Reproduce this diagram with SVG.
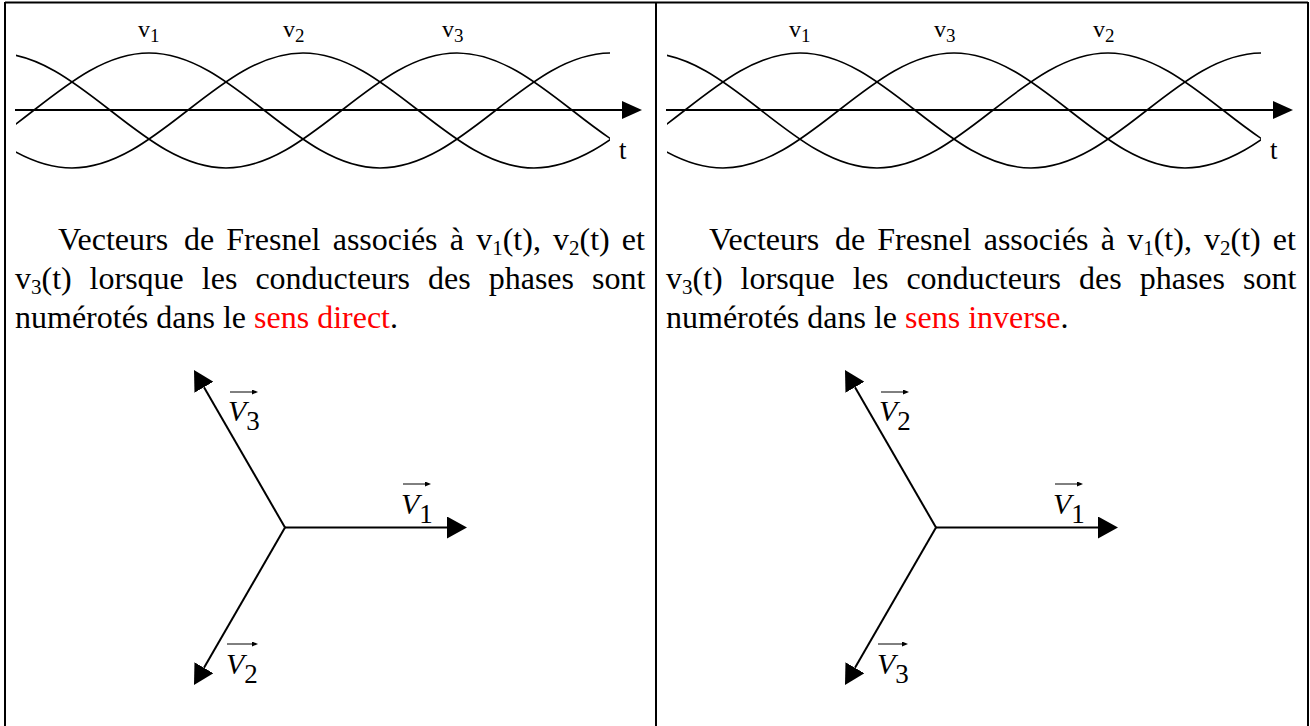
<svg xmlns="http://www.w3.org/2000/svg" width="1310" height="726" viewBox="0 0 1310 726">
<style>
.frame{stroke:#000;stroke-width:2;fill:none}
.wave{stroke:#000;stroke-width:1.6;fill:none}
.axis{stroke:#000;stroke-width:2;fill:none}
.vec{stroke:#000;stroke-width:2;fill:none}
.lbl{font-family:"Liberation Serif","Times New Roman",serif;fill:#000}
.para{font-family:"Liberation Serif","Times New Roman",serif;font-size:32px;fill:#000}
.red{fill:#ff0000}
.vname{font-family:"Liberation Serif","Times New Roman",serif;font-size:30px;font-style:italic;fill:#000}
.vsub{font-style:normal;font-size:27px}
.tarr{stroke:#000;stroke-width:1;fill:none}
</style>
<defs>
<marker id="mAxis" markerUnits="userSpaceOnUse" markerWidth="20" markerHeight="18" viewBox="0 0 20 18" refX="0" refY="9" orient="auto"><path d="M0,0 L20,9 L0,18 z" fill="#000"/></marker>
<marker id="mVec" markerUnits="userSpaceOnUse" markerWidth="20" markerHeight="22" viewBox="0 0 20 22" refX="0" refY="11" orient="auto"><path d="M0,0 L20,11 L0,22 z" fill="#000"/></marker>
<marker id="mTiny" markerUnits="userSpaceOnUse" markerWidth="6" markerHeight="5" viewBox="0 0 6 5" refX="0" refY="2.5" orient="auto"><path d="M0,0 L6,2.5 L0,5 z" fill="#000"/></marker>
<clipPath id="waveClip" clipPathUnits="userSpaceOnUse"><rect x="16" y="0" width="594" height="200"/></clipPath>
<g id="waveSet">
<path class="wave" d="M-82,168 C2,168 65,53 149,53 S296,168 380,168 S527,53 611,53"/>
<path class="wave" d="M-159,53 C-75,53 -12,168 72,168 S219,53 303,53 S450,168 534,168 S681,53 765,53"/>
<path class="wave" d="M-5,53 C79,53 142,168 226,168 S373,53 457,53 S604,168 688,168"/>
</g>
</defs>

<g id="frame">
<line class="frame" x1="5" y1="2.5" x2="1308" y2="2.5"/>
<line class="frame" x1="5" y1="2" x2="5" y2="726"/>
<line class="frame" x1="656" y1="2" x2="656" y2="726"/>
<line class="frame" x1="1308" y1="2" x2="1308" y2="726"/>
</g>

<g id="waves-left">
<g clip-path="url(#waveClip)"><use href="#waveSet"/></g>
<text class="lbl" x="138" y="37" font-size="24">v<tspan font-size="19" dy="5">1</tspan></text>
<text class="lbl" x="283" y="37" font-size="24">v<tspan font-size="19" dy="5">2</tspan></text>
<text class="lbl" x="442" y="37" font-size="24">v<tspan font-size="19" dy="5">3</tspan></text>
<text class="lbl" x="619" y="159" font-size="27">t</text>
</g>

<g id="waves-right">
<g transform="translate(651,0)"><g clip-path="url(#waveClip)"><use href="#waveSet"/></g></g>
<text class="lbl" x="789" y="37" font-size="24">v<tspan font-size="19" dy="5">1</tspan></text>
<text class="lbl" x="934" y="37" font-size="24">v<tspan font-size="19" dy="5">3</tspan></text>
<text class="lbl" x="1093" y="37" font-size="24">v<tspan font-size="19" dy="5">2</tspan></text>
<text class="lbl" x="1270" y="159" font-size="27">t</text>
</g>

<g id="connectors">
<line class="axis" x1="15" y1="110" x2="622" y2="110" marker-end="url(#mAxis)"/>
<line class="axis" x1="666" y1="110" x2="1273" y2="110" marker-end="url(#mAxis)"/>
<line class="vec" x1="285" y1="527.5" x2="447" y2="527.5" marker-end="url(#mVec)"/>
<line class="vec" x1="285" y1="527.5" x2="204" y2="387.2" marker-end="url(#mVec)"/>
<line class="vec" x1="285" y1="527.5" x2="204" y2="667.8" marker-end="url(#mVec)"/>
<line class="vec" x1="936" y1="527.5" x2="1098" y2="527.5" marker-end="url(#mVec)"/>
<line class="vec" x1="936" y1="527.5" x2="855" y2="387.2" marker-end="url(#mVec)"/>
<line class="vec" x1="936" y1="527.5" x2="855" y2="667.8" marker-end="url(#mVec)"/>
</g>

<g id="text-left">
<text class="para" y="250"><tspan x="58">Vecteurs</tspan><tspan x="183.9">de</tspan><tspan x="226.3">Fresnel</tspan><tspan x="332.7">associés</tspan><tspan x="449.8">à</tspan><tspan x="476.2">v<tspan font-size="21" dy="5">1</tspan><tspan dy="-5">(t),</tspan></tspan><tspan x="553">v<tspan font-size="21" dy="5">2</tspan><tspan dy="-5">(t)</tspan></tspan><tspan x="621.8">et</tspan></text>
<text class="para" y="289"><tspan x="15">v<tspan font-size="21" dy="5">3</tspan><tspan dy="-5">(t)</tspan></tspan><tspan x="89.6">lorsque</tspan><tspan x="201.8">les</tspan><tspan x="255.4">conducteurs</tspan><tspan x="428">des</tspan><tspan x="488.7">phases</tspan><tspan x="592">sont</tspan></text>
<text class="para" x="15" y="328">numérotés dans le <tspan class="red">sens direct</tspan>.</text>
</g>

<g id="text-right">
<text class="para" y="250"><tspan x="709">Vecteurs</tspan><tspan x="834.9">de</tspan><tspan x="877.3">Fresnel</tspan><tspan x="983.7">associés</tspan><tspan x="1100.8">à</tspan><tspan x="1127.2">v<tspan font-size="21" dy="5">1</tspan><tspan dy="-5">(t),</tspan></tspan><tspan x="1204">v<tspan font-size="21" dy="5">2</tspan><tspan dy="-5">(t)</tspan></tspan><tspan x="1272.8">et</tspan></text>
<text class="para" y="289"><tspan x="666">v<tspan font-size="21" dy="5">3</tspan><tspan dy="-5">(t)</tspan></tspan><tspan x="740.6">lorsque</tspan><tspan x="852.8">les</tspan><tspan x="906.4">conducteurs</tspan><tspan x="1079">des</tspan><tspan x="1139.7">phases</tspan><tspan x="1243">sont</tspan></text>
<text class="para" x="666" y="328">numérotés dans le <tspan class="red">sens inverse</tspan>.</text>
</g>

<g id="vector-labels-left">
<g id="lbl-V3-left"><line class="tarr" x1="230" y1="392" x2="252" y2="392" marker-end="url(#mTiny)"/><text class="vname" x="228" y="421">V<tspan class="vsub" dy="9">3</tspan></text></g>
<g id="lbl-V1-left"><line class="tarr" x1="403" y1="484" x2="425" y2="484" marker-end="url(#mTiny)"/><text class="vname" x="401" y="514">V<tspan class="vsub" dy="9">1</tspan></text></g>
<g id="lbl-V2-left"><line class="tarr" x1="227" y1="644" x2="252" y2="644" marker-end="url(#mTiny)"/><text class="vname" x="226" y="674">V<tspan class="vsub" dy="9">2</tspan></text></g>
</g>

<g id="vector-labels-right">
<g id="lbl-V2-right"><line class="tarr" x1="881" y1="392" x2="903" y2="392" marker-end="url(#mTiny)"/><text class="vname" x="879" y="421">V<tspan class="vsub" dy="9">2</tspan></text></g>
<g id="lbl-V1-right"><line class="tarr" x1="1055" y1="484" x2="1077" y2="484" marker-end="url(#mTiny)"/><text class="vname" x="1053" y="514">V<tspan class="vsub" dy="9">1</tspan></text></g>
<g id="lbl-V3-right"><line class="tarr" x1="878" y1="644" x2="902" y2="644" marker-end="url(#mTiny)"/><text class="vname" x="877" y="674">V<tspan class="vsub" dy="9">3</tspan></text></g>
</g>
</svg>
